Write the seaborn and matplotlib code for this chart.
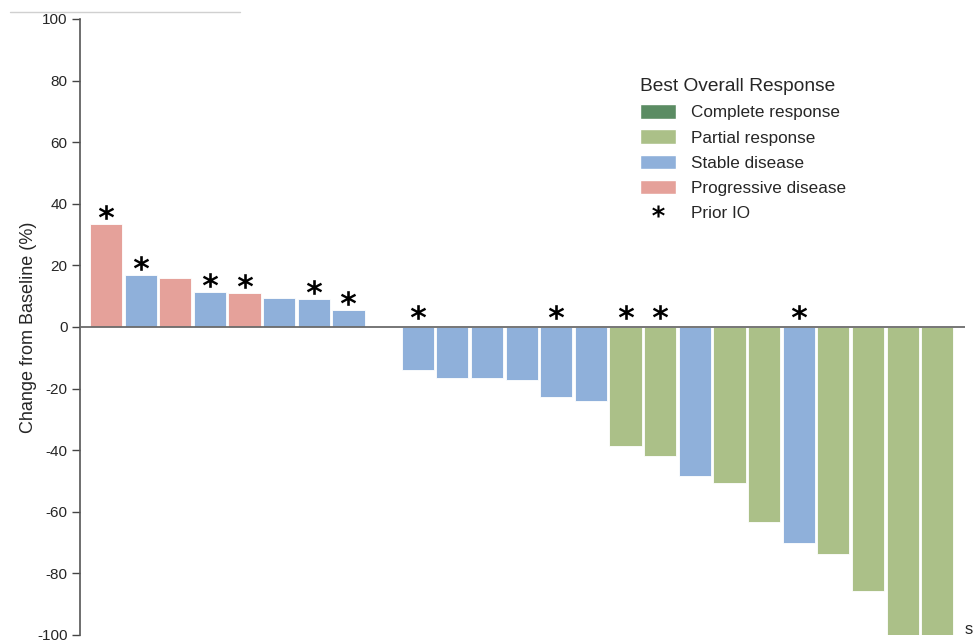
import matplotlib
matplotlib.use("Agg")
import matplotlib.pyplot as plt
from matplotlib.patches import Patch
from matplotlib.lines import Line2D
import seaborn as sns
import pandas as pd

# best % change from baseline, one entry per patient (0.0 = slot with no visible bar)
change = [33.3, 16.8, 15.9, 11.3, 11.0, 9.4, 9.1, 5.5, 0.0,
          -13.9, -16.5, -16.5, -17.2, -22.7, -24.0, -38.5, -42.0,
          -48.5, -50.5, -63.4, -70.2, -73.8, -85.8, -100.0, -100.0]
response = ["PD", "SD", "PD", "SD", "PD", "SD", "SD", "SD", "SD",
            "SD", "SD", "SD", "SD", "SD", "SD", "PR", "PR",
            "SD", "PR", "PR", "SD", "PR", "PR", "PR", "PR"]
prior_io = [1, 1, 0, 1, 1, 0, 1, 1, 0,
            1, 0, 0, 0, 1, 0, 1, 1,
            0, 0, 0, 1, 0, 0, 0, 0]

legend_labels = ["Complete response", "Partial response", "Stable disease", "Progressive disease"]
colors = {"CR": "#5b8c63", "PR": "#abc088", "SD": "#8fb0da", "PD": "#e5a19a"}

df = pd.DataFrame({"pos": range(len(change)), "change": change,
                   "response": response, "prior_io": prior_io})

sns.set_style("white")
plt.rcParams["font.family"] = ["Liberation Sans", "DejaVu Sans"]
plt.rcParams["axes.unicode_minus"] = False

fig = plt.figure(figsize=(9.74, 6.44), dpi=100)
ax = fig.add_axes([80 / 974, 1 - 635 / 644, (965 - 80) / 974, (635 - 19) / 644])

sns.barplot(data=df, x="pos", y="change", hue="response", palette=colors,
            dodge=False, width=0.93, saturation=1, edgecolor="white",
            linewidth=0.6, legend=False, ax=ax)

# asterisks for prior IO
star = df[df["prior_io"] == 1]
star_y = [v + 4 if v > 0 else 5 for v in star["change"]]
ax.scatter(star["pos"], star_y, marker=r"$\mathbf{*}$", s=120, color="black",
           linewidths=0, zorder=5)

ax.axhline(0, color="#6b6b6b", lw=1.3, zorder=4)
ax.set_xlim(-0.75, 24.8)
ax.set_ylim(-100, 100)
ax.set_yticks(range(-100, 101, 20))
ax.set_xticks([])
ax.set_xlabel("")
ax.set_ylabel("Change from Baseline (%)", fontsize=13, labelpad=0)
ax.tick_params(axis="y", direction="out", length=6, width=1, color="#444",
               labelsize=11, pad=3, left=True)
for s in ["top", "right", "bottom"]:
    ax.spines[s].set_visible(False)
ax.spines["left"].set_color("#555")
ax.spines["left"].set_linewidth(1.2)

handles = [Patch(facecolor=colors[k], edgecolor="white") for k in ["CR", "PR", "SD", "PD"]]
handles.append(Line2D([], [], linestyle="none", marker=r"$\mathbf{*}$", markersize=9,
                      color="black", markeredgewidth=0))
leg = ax.legend(handles, legend_labels + ["Prior IO"], title="Best Overall Response",
                loc="upper left", bbox_to_anchor=(625 / 974, 1 - 63 / 644),
                bbox_transform=fig.transFigure, frameon=False, fontsize=12.3,
                title_fontsize=13.8, handlelength=2.1, handleheight=0.95,
                handletextpad=0.85, labelspacing=0.52, alignment="left")

fig.add_artist(Line2D([10 / 974, 240 / 974], [1 - 12 / 644, 1 - 12 / 644],
                      color="#d0d0d0", lw=1))
fig.text(973 / 974, 1 - 630 / 644, "s", fontsize=12, va="center", ha="right")

fig.savefig("out.png", dpi=100)
